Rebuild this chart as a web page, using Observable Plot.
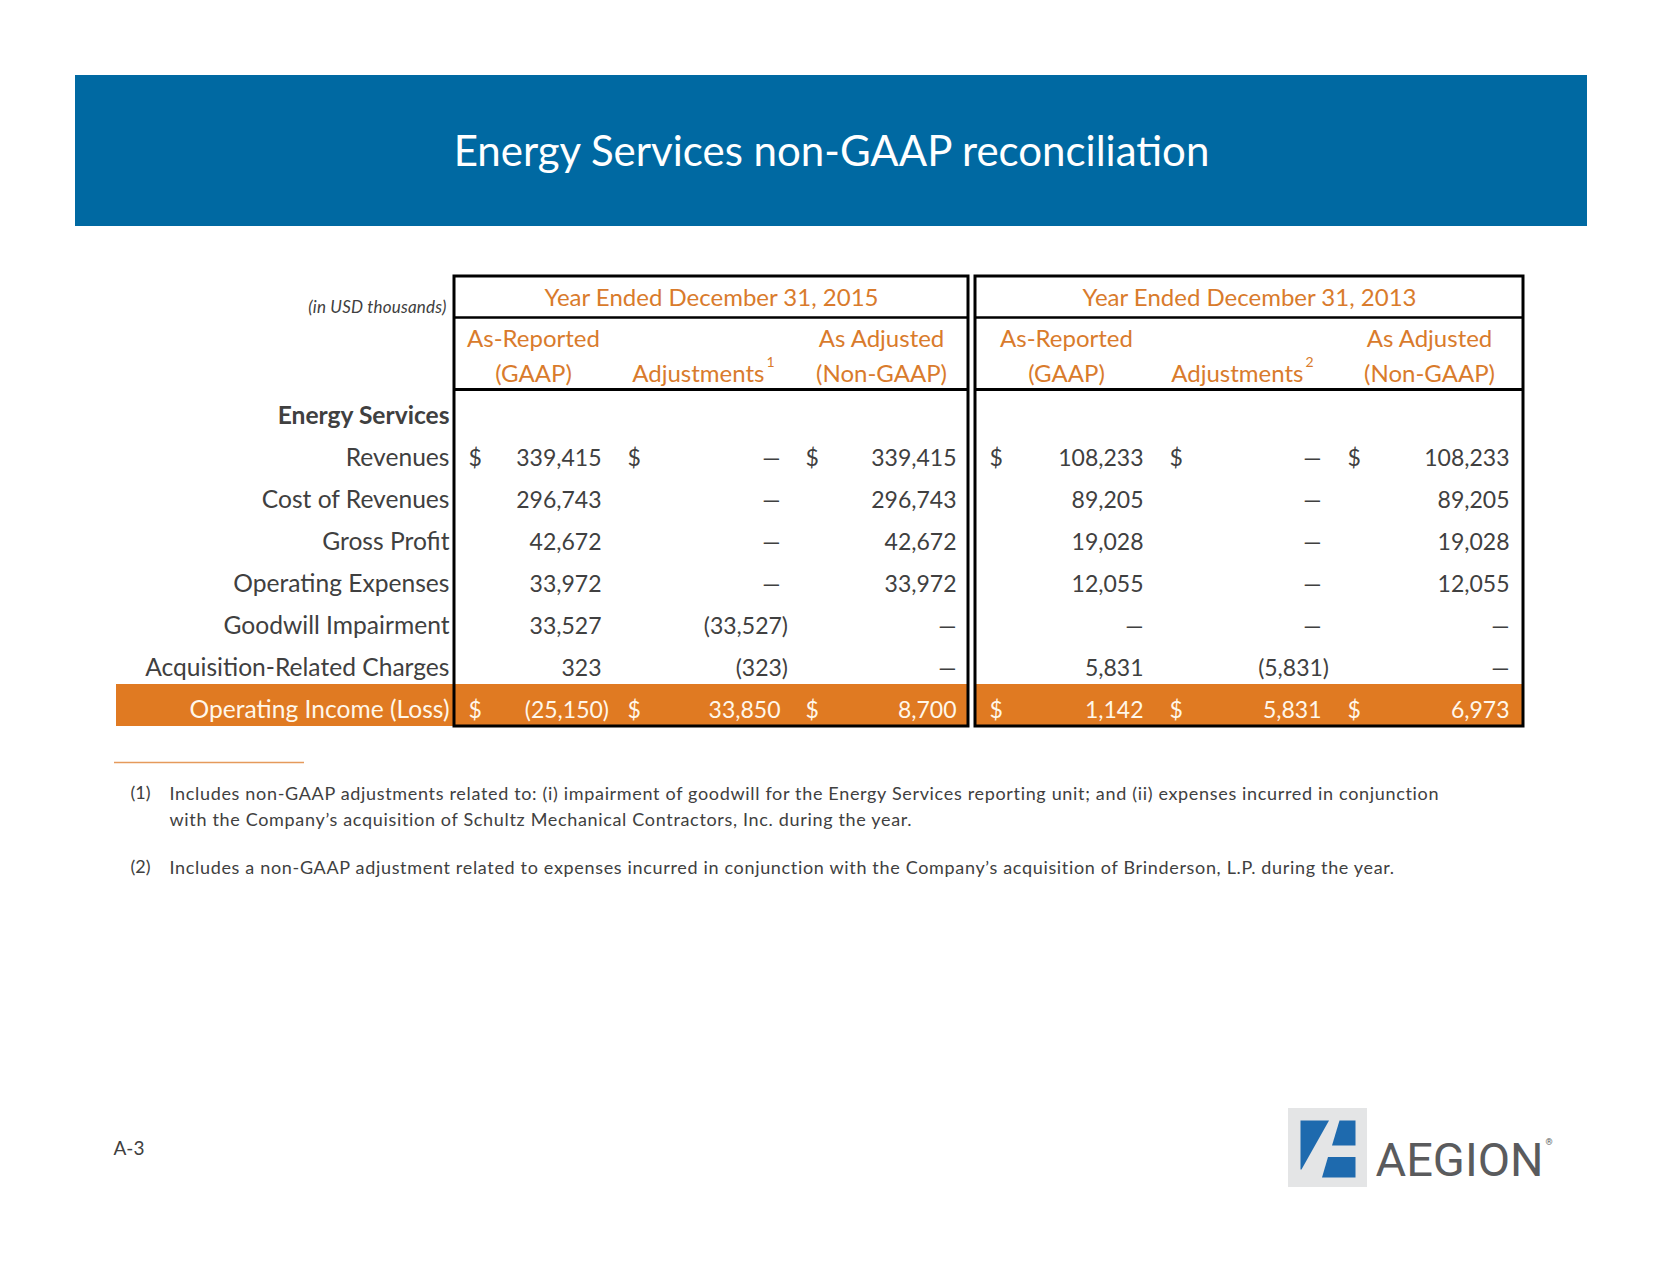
<!DOCTYPE html>
<html>
<head>
<meta charset="utf-8">
<script src="https://cdn.jsdelivr.net/npm/d3@7"></script>
<script src="https://cdn.jsdelivr.net/npm/@observablehq/plot@0.6"></script>
<style>
  html, body { margin: 0; padding: 0; background: #fff; overflow: hidden; }
  text[aria-label="footnotes"], text[aria-label="footnotes"] tspan { letter-spacing: 0.67px; }
  text[aria-label="unit-note"] { letter-spacing: 0.2px; }
</style>
</head>
<body>
<div id="chart"></div>
<script>
// ---------- DATA ----------
const title = "Energy Services non-GAAP reconciliation";
const unitNote = "(in USD thousands)";
const sectionLabel = "Energy Services";
const periods = ["Year Ended December 31, 2015", "Year Ended December 31, 2013"];
const colHeadTop = ["As-Reported", "", "As Adjusted"];
const colHeadBottom = ["(GAAP)", "Adjustments", "(Non-GAAP)"];
const adjNotes = ["1", "2"];
const rows = ["Revenues", "Cost of Revenues", "Gross Profit", "Operating Expenses",
  "Goodwill Impairment", "Acquisition-Related Charges", "Operating Income (Loss)"];
const dollarRows = ["Revenues", "Operating Income (Loss)"];
const gaap2015 = [339415, 296743, 42672, 33972, 33527, 323, -25150];
const adj2015 = [0, 0, 0, 0, -33527, -323, 33850];
const nonGaap2015 = [339415, 296743, 42672, 33972, 0, 0, 8700];
const gaap2013 = [108233, 89205, 19028, 12055, 0, 5831, 1142];
const adj2013 = [0, 0, 0, 0, 0, -5831, 5831];
const nonGaap2013 = [108233, 89205, 19028, 12055, 0, 0, 6973];
const footnoteMarks = ["(1)", "(2)"];
const footnotes = [
  "Includes non-GAAP adjustments related to: (i) impairment of goodwill for the Energy Services reporting unit; and (ii) expenses incurred in conjunction\nwith the Company\u2019s acquisition of Schultz Mechanical Contractors, Inc. during the year.",
  "Includes a non-GAAP adjustment related to expenses incurred in conjunction with the Company\u2019s acquisition of Brinderson, L.P. during the year."
];
const pageLabel = "A-3";
const brand = "AEGION";

// ---------- LAYOUT ----------
const W = 1662, H = 1275;
const FONT = "Lato, 'Open Sans', sans-serif";
const BLUE = "#0069A2", ORANGE = "#D97B2C", ORANGE_FILL = "#E07A22", GRAY = "#404040", CREAM = "#FFF7EA";
const rowY0 = 458, rowStep = 42, sectionY = 416;
const labelX = 449;
const tables = [
  {x1: 454, x2: 968, dollarX: [468, 627, 805], valRight: [601, 780, 956], headX: [533, 697, 881], adjEnd: 764,
   series: [gaap2015, adj2015, nonGaap2015]},
  {x1: 975, x2: 1523, dollarX: [989, 1169, 1347], valRight: [1143, 1321, 1509], headX: [1066, 1238, 1429], adjEnd: 1303,
   series: [gaap2013, adj2013, nonGaap2013]}
];
const boxTop = 276, sep1 = 317, sep2 = 389, boxBottom = 726, orangeTop = 684;
const lastRow = rows.length - 1;

const fmt = v => v === 0 ? "\u2014" : (v < 0 ? "(" + d3.format(",")(-v) + ")" : d3.format(",")(v));

// ---------- DERIVED MARK DATA ----------
const cells = [];
const dollars = [];
tables.forEach((t, ti) => {
  t.series.forEach((s, ci) => {
    s.forEach((v, ri) => {
      cells.push({x: t.valRight[ci] + (v < 0 ? 7.5 : 0), y: rowY0 + ri * rowStep, text: fmt(v), last: ri === lastRow});
      if (dollarRows.includes(rows[ri])) {
        dollars.push({x: t.dollarX[ci], y: rowY0 + ri * rowStep, last: ri === lastRow});
      }
    });
  });
});
const labelData = rows.map((r, i) => ({x: labelX, y: rowY0 + i * rowStep, text: r, last: i === lastRow}));
const headTop = [], headBottom = [];
tables.forEach((t, ti) => {
  colHeadTop.forEach((h, ci) => { if (h) headTop.push({x: t.headX[ci], y: 339, text: h}); });
  colHeadBottom.forEach((h, ci) => {
    if (ci === 1) headBottom.push({x: t.adjEnd, y: 374, text: h, anchor: "end"});
    else headBottom.push({x: t.headX[ci], y: 374, text: h, anchor: "middle"});
  });
});
const supData = tables.map((t, i) => ({x: t.adjEnd + 2, y: 362, text: adjNotes[i]}));
const periodData = tables.map((t, i) => ({x: (t.x1 + t.x2) / 2, y: 298, text: periods[i]}));

const logoShapes = [
  {s: "a", pts: [[1300, 1120], [1328.5, 1120], [1301, 1169], [1300, 1169]]},
  {s: "b", pts: [[1339, 1120], [1355, 1120], [1355, 1145], [1331.5, 1145]]},
  {s: "c", pts: [[1327.5, 1156.5], [1355, 1156.5], [1355, 1177], [1321.5, 1177]]}
].flatMap(d => d.pts.map(p => ({s: d.s, x: p[0], y: p[1]})));

const TXT = 23, HDR = 24, LBL = 24.6;

const chart = Plot.plot({
  width: W, height: H, margin: 0,
  x: {domain: [0, W], range: [0, W], axis: null},
  y: {domain: [0, H], range: [0, H], axis: null},
  style: {background: "#fff"},
  marks: [
    // Title band
    Plot.rect([0], {x1: 75, x2: 1587, y1: 75, y2: 226, fill: BLUE}),
    Plot.text([title], {x: 831, y: 152, text: d => d, fill: "#fff", fontSize: 42, fontFamily: FONT}),
    // orange total row
    Plot.rect([{a: 116, b: 968}, {a: 975, b: 1523}], {x1: "a", x2: "b", y1: orangeTop, y2: boxBottom, fill: ORANGE_FILL}),
    // boxes
    Plot.rect(tables, {x1: "x1", x2: "x2", y1: boxTop, y2: boxBottom, fill: "none", stroke: "#000", strokeWidth: 3}),
    Plot.ruleY(tables, {x1: "x1", x2: "x2", y: sep1, stroke: "#000", strokeWidth: 2.5}),
    Plot.ruleY(tables, {x1: "x1", x2: "x2", y: sep2, stroke: "#000", strokeWidth: 3}),
    // headers
    Plot.text([unitNote], {x: 446, y: 307, text: d => d, textAnchor: "end", fontSize: 17, fontStyle: "italic", fill: GRAY, fontFamily: FONT, ariaLabel: () => "unit-note"}),
    Plot.text(periodData, {x: "x", y: "y", text: "text", fontSize: HDR, fill: ORANGE, fontFamily: FONT}),
    Plot.text(headTop, {x: "x", y: "y", text: "text", fontSize: HDR, fill: ORANGE, fontFamily: FONT}),
    Plot.text(headBottom.filter(d => d.anchor === "middle"), {x: "x", y: "y", text: "text", fontSize: HDR, fill: ORANGE, fontFamily: FONT}),
    Plot.text(headBottom.filter(d => d.anchor === "end"), {x: "x", y: "y", text: "text", textAnchor: "end", fontSize: HDR, fill: ORANGE, fontFamily: FONT}),
    Plot.text(supData, {x: "x", y: "y", text: "text", textAnchor: "start", fontSize: 14, fill: ORANGE, fontFamily: FONT}),
    // row labels
    Plot.text([sectionLabel], {x: labelX, y: sectionY, text: d => d, textAnchor: "end", fontSize: LBL, fontWeight: "bold", fill: GRAY, fontFamily: FONT}),
    Plot.text(labelData, {x: "x", y: "y", text: "text", textAnchor: "end", fontSize: LBL, fill: d => d.last ? CREAM : GRAY, fontFamily: FONT}),
    // values
    Plot.text(dollars, {x: "x", y: "y", text: () => "$", textAnchor: "start", fontSize: TXT, fill: d => d.last ? CREAM : GRAY, fontFamily: FONT}),
    Plot.text(cells, {x: "x", y: "y", text: "text", textAnchor: "end", fontSize: TXT, fill: d => d.last ? CREAM : GRAY, fontFamily: FONT}),
    // footnotes
    Plot.ruleY([0], {x1: 114, x2: 304, y: 762, stroke: "#E59A5C", strokeWidth: 1.5}),
    Plot.text(footnoteMarks, {x: 130, y: (d, i) => i === 0 ? 793 : 867, text: d => d, textAnchor: "start", lineAnchor: "middle", fontSize: 18, fill: GRAY, fontFamily: FONT}),
    Plot.text(footnotes, {x: 169, y: (d, i) => i === 0 ? 793 : 867, text: d => d, textAnchor: "start", lineAnchor: "top", dy: -11, lineHeight: 1.4, fontSize: 18, fill: GRAY, fontFamily: FONT, ariaLabel: () => "footnotes"}),
    // page label
    Plot.text([pageLabel], {x: 113, y: 1148, text: d => d, textAnchor: "start", fontSize: 19, fill: GRAY, fontFamily: FONT}),
    // logo
    Plot.rect([0], {x1: 1288, x2: 1367, y1: 1108, y2: 1187, fill: "#E4E5E6"}),
    Plot.line(logoShapes, {x: "x", y: "y", z: "s", fill: "#1E6AAE", stroke: null}),
    Plot.text([brand], {x: 1375, y: 1160, text: d => d, textAnchor: "start", fontSize: 47, fontWeight: 400, fill: "#5A5B5D", fontFamily: "Roboto, sans-serif"}),
    Plot.text(["\u00AE"], {x: 1545, y: 1142, text: d => d, textAnchor: "start", fontSize: 9, fill: "#5A5B5D", fontFamily: "Roboto, sans-serif"})
  ]
});
document.getElementById("chart").appendChild(chart);
// fallback: make sure letter spacing applies to footnote/unit texts
d3.select(chart).selectAll("text").each(function() {
  const t = this.textContent;
  if (t.startsWith("Includes")) d3.select(this).style("letter-spacing", "0.67px");
  if (t === unitNote) d3.select(this).style("letter-spacing", "0.2px");
});
</script>
</body>
</html>
